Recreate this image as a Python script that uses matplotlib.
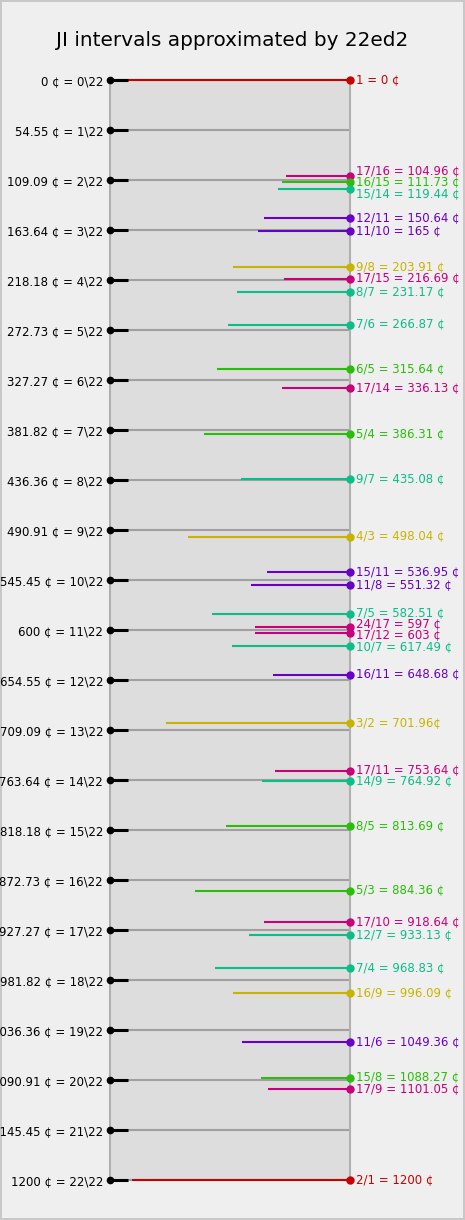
import math

import matplotlib
matplotlib.use("Agg")
import matplotlib.pyplot as plt
import numpy as np

# equal division of the octave
edo = 22

# JI intervals: numerator, denominator, relative line length
nums = [1, 17, 16, 15, 12, 11, 9, 17, 8, 7, 6, 17, 5, 9, 4, 15, 11, 7, 24, 17, 10,
        16, 3, 17, 14, 8, 5, 17, 12, 7, 16, 11, 15, 17, 2]
dens = [1, 16, 15, 14, 11, 10, 8, 15, 7, 6, 5, 14, 4, 7, 3, 11, 8, 5, 17, 12, 7,
        11, 2, 11, 9, 5, 3, 10, 7, 4, 9, 6, 8, 9, 1]
lengths = [1.0, 0.265, 0.282, 0.299, 0.360, 0.383, 0.486, 0.274, 0.472, 0.510,
           0.554, 0.282, 0.607, 0.455, 0.675, 0.347, 0.4125, 0.574, 0.396, 0.396,
           0.490, 0.322, 0.765, 0.314, 0.367, 0.517, 0.645, 0.358, 0.420, 0.5625,
           0.486, 0.45, 0.372, 0.340, 0.910]

# colour by prime limit
limit_colors = {2: "#c80000", 3: "#c8b400", 5: "#2abe0a", 7: "#0abe87",
                11: "#6a00c8", 13: "#0060c8", 17: "#c8007a"}


def prime_limit(n):
    p, lim = 2, 2
    while n > 1:
        while n % p == 0:
            n //= p
            lim = max(lim, p)
        p += 1
    return lim


def fmt(c):
    s = "%.2f" % c
    s = s.rstrip("0").rstrip(".")
    return s


cents = [1200 * math.log2(n / d) for n, d in zip(nums, dens)]
colors = [limit_colors[max(prime_limit(n), prime_limit(d))] for n, d in zip(nums, dens)]
names = ["1" if n == d else "%d/%d" % (n, d) for n, d in zip(nums, dens)]
labels = ["%s = %s ¢" % (nm, fmt(c)) for nm, c in zip(names, cents)]
labels[names.index("3/2")] = "3/2 = 701.96¢"

steps = np.arange(edo + 1)
step_cents = 1200 * steps / edo
step_labels = ["%s ¢ = %d\\%d" % (fmt(c), k, edo) for k, c in zip(steps, step_cents)]

fig = plt.figure(figsize=(4.65, 12.2), dpi=100, facecolor="#efefef",
                 edgecolor="#c8c8c8", linewidth=1.5)
ax = fig.add_axes([110 / 465, 40 / 1220, 240 / 465, 1100 / 1220])
ax.set_facecolor("#dddddd")
ax.set_xlim(0, 1)
ax.set_ylim(1200, 0)
for s in ["top", "bottom"]:
    ax.spines[s].set_visible(False)
for s in ["left", "right"]:
    ax.spines[s].set_color("#b0b0b0")
    ax.spines[s].set_linewidth(1.5)
ax.set_xticks([])
ax.set_yticks(step_cents)
ax.set_yticklabels(step_labels, fontsize=8.5)
ax.tick_params(axis="y", length=0, pad=5)

# edo steps
for c in step_cents:
    ax.plot([0, 1], [c, c], color="#a0a0a0", lw=1.5, zorder=1,
            solid_capstyle="butt", clip_on=False)
    ax.plot([0, 0.075], [c, c], color="black", lw=2.2, zorder=4,
            solid_capstyle="butt", clip_on=False)
    ax.plot([0], [c], "o", color="black", ms=4.5, zorder=5, clip_on=False)

# JI intervals
for c, L, col in zip(cents, lengths, colors):
    ax.plot([1 - L, 1], [c, c], color=col, lw=1.5, zorder=2,
            solid_capstyle="butt", clip_on=False)
    ax.plot([1], [c], "o", color=col, ms=5, zorder=3, clip_on=False)

# spread right-hand labels so they do not overlap
gap = 12.4
order = np.argsort(cents)
ys = np.array(cents, dtype=float)[order]
for _ in range(200):
    for i in range(len(ys) - 1):
        d = ys[i + 1] - ys[i]
        if d < gap:
            push = (gap - d) / 2
            ys[i] -= push
            ys[i + 1] += push
lab_y = np.empty_like(ys)
lab_y[order] = ys

for y, txt, col in zip(lab_y, labels, colors):
    ax.annotate(txt, xy=(1, y), xytext=(4.5, 0.5), textcoords="offset points",
                va="center", ha="left", color=col, fontsize=8.5,
                annotation_clip=False)

fig.suptitle("JI intervals approximated by 22ed2", fontsize=14.4, y=1 - 41 / 1220,
             va="center")

fig.savefig("out.png", dpi=100, facecolor=fig.get_facecolor(),
            edgecolor=fig.get_edgecolor())
